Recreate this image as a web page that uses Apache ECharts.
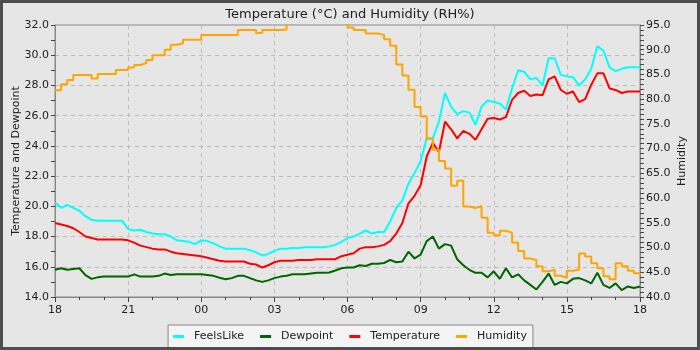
<!DOCTYPE html>
<html>
<head>
<meta charset="utf-8">
<title>Temperature and Humidity</title>
<script src="https://cdn.jsdelivr.net/npm/echarts@6/dist/echarts.min.js"></script>
<style>
    html, body { margin: 0; padding: 0; background: #e6e6e6; }
    #chart { width: 700px; height: 350px; }
</style>
</head>
<body>
<div id="chart"></div>
<script>
    'use strict';

    // one sample every 15 minutes, 18:00 -> 18:00 next day
    const STEP_HOURS = 0.25;
    const hourLabels = ['18', '21', '00', '03', '06', '09', '12', '15', '18'];

    const feelsLike = [
        20.25, 19.9, 20.1, 19.9, 19.7, 19.35, 19.1, 19.05, 19.05, 19.05, 19.05, 19.05,
        18.5, 18.4, 18.45, 18.3, 18.2, 18.15, 18.15, 18.0, 17.75, 17.7, 17.65, 17.5,
        17.75, 17.7, 17.55, 17.35, 17.2, 17.2, 17.2, 17.2, 17.1, 16.95, 16.75, 16.85,
        17.05, 17.2, 17.2, 17.25, 17.25, 17.3, 17.3, 17.3, 17.3, 17.35, 17.45, 17.65,
        17.9, 18.0, 18.2, 18.4, 18.2, 18.3, 18.3, 19.0, 19.9, 20.4, 21.5, 22.2,
        23.0, 24.5, 24.5, 25.6, 27.5, 26.6, 26.1, 26.3, 26.2, 25.4, 26.6, 27.0,
        26.9, 26.8, 26.4, 27.8, 29.0, 28.9, 28.4, 28.5, 28.0, 29.8, 29.8, 28.7,
        28.6, 28.55, 28.0, 28.4, 29.1, 30.6, 30.3, 29.2, 28.95, 29.1, 29.2, 29.2, 29.2
    ];

    const dewpoint = [
        15.8, 15.9, 15.8, 15.85, 15.9, 15.45, 15.2, 15.3, 15.35, 15.35, 15.35, 15.35,
        15.35, 15.5, 15.35, 15.35, 15.35, 15.4, 15.55, 15.45, 15.5, 15.5, 15.5, 15.5,
        15.5, 15.45, 15.4, 15.27, 15.17, 15.25, 15.4, 15.4, 15.25, 15.1, 15.0, 15.1,
        15.25, 15.35, 15.4, 15.5, 15.5, 15.5, 15.55, 15.6, 15.6, 15.62, 15.75, 15.9,
        15.95, 15.95, 16.1, 16.05, 16.2, 16.2, 16.25, 16.45, 16.3, 16.35, 17.0, 16.55,
        16.8, 17.7, 18.0, 17.2, 17.5, 17.4, 16.5, 16.1, 15.8, 15.6, 15.6, 15.3,
        15.7, 15.2, 15.9, 15.3, 15.5, 15.1, 14.8, 14.5, 15.0, 15.55, 14.8, 15.0,
        14.9, 15.2, 15.25, 15.1, 14.9, 15.6, 14.8, 14.6, 14.9, 14.45, 14.7, 14.6, 14.7
    ];

    const temperature = [
        18.9, 18.8, 18.7, 18.55, 18.3, 18.0, 17.9, 17.8, 17.8, 17.8, 17.8, 17.8,
        17.75, 17.6, 17.4, 17.3, 17.2, 17.15, 17.15, 17.0, 16.9, 16.85, 16.8, 16.75,
        16.7, 16.6, 16.5, 16.4, 16.35, 16.35, 16.35, 16.35, 16.2, 16.15, 15.95, 16.1,
        16.3, 16.4, 16.4, 16.4, 16.45, 16.45, 16.45, 16.5, 16.5, 16.5, 16.5, 16.7,
        16.8, 16.9, 17.2, 17.3, 17.3, 17.35, 17.45, 17.7, 18.2, 18.9, 20.2, 20.7,
        21.4, 23.3, 24.2, 23.6, 25.6, 25.1, 24.5, 25.0, 24.8, 24.4, 25.1, 25.8,
        25.85, 25.75, 25.9, 27.05, 27.5, 27.65, 27.3, 27.4, 27.35, 28.4, 28.6, 27.7,
        27.45, 27.6, 26.9, 27.1, 28.05, 28.8, 28.8, 27.8, 27.7, 27.5, 27.6, 27.6, 27.6
    ];

    const humidity = [
        81.8, 83.0, 83.9, 84.9, 84.9, 84.9, 84.2, 85.1, 85.1, 85.1, 85.9, 85.9,
        86.4, 86.9, 87.3, 87.9, 88.9, 88.9, 90.0, 91.0, 91.3, 92.0, 92.0, 92.0,
        93.0, 93.0, 93.0, 93.0, 93.0, 93.0, 94.0, 94.0, 94.0, 93.4, 94.0, 94.0,
        94.0, 94.1, 95.3, 96.0, 96.0, 96.0, 96.0, 96.0, 96.0, 96.0, 96.0, 96.0,
        94.5, 94.0, 94.0, 93.3, 93.3, 93.0, 92.1, 90.8, 87.0, 84.8, 81.9, 78.4,
        76.5, 72.0, 69.8, 67.5, 66.0, 62.5, 63.5, 58.3, 58.0, 58.4, 56.0, 53.0,
        52.5, 53.4, 53.0, 51.0, 49.3, 47.8, 47.5, 46.2, 45.2, 45.5, 44.3, 43.9,
        45.3, 45.5, 48.8, 48.2, 46.8, 45.8, 44.2, 43.6, 46.8, 46.2, 45.3, 44.8, 44.6
    ];

    const withHours = function(values) {
        return values.map((v, i) => [i * STEP_HOURS, v]);
    };

    const lineSeries = function(name, color, values, axisIndex, step) {
        return {
            name: name,
            type: 'line',
            yAxisIndex: axisIndex,
            data: withHours(values),
            showSymbol: false,
            step: step,
            clip: true,
            color: color,
            lineStyle: { width: 2, color: color },
            z: 2
        };
    };

    const FONT = 'DejaVu Sans';
    const AXIS_GREY = '#888888';

    const chart = echarts.init(document.getElementById('chart'), null, { renderer: 'canvas' });

    chart.setOption({
        backgroundColor: '#e6e6e6',
        animation: false,
        textStyle: { fontFamily: FONT },
        title: {
            text: 'Temperature (°C) and Humidity (RH%)',
            left: 'center',
            top: 3,
            textStyle: { fontFamily: FONT, fontSize: 13, fontWeight: 'normal', color: '#222' }
        },
        graphic: [{
            type: 'rect',
            shape: { x: 1.5, y: 1.5, width: 697, height: 347 },
            style: { fill: 'none', stroke: '#4d4d4d', lineWidth: 3 },
            silent: true,
            z: 100
        }],
        legend: {
            bottom: 2,
            left: 'center',
            data: ['FeelsLike', 'Dewpoint', 'Temperature', 'Humidity'],
            icon: 'rect',
            itemWidth: 11,
            itemHeight: 3,
            itemGap: 16,
            padding: [6, 6, 6, 5],
            backgroundColor: '#f4f4f4',
            borderColor: AXIS_GREY,
            borderWidth: 1,
            textStyle: { fontFamily: FONT, fontSize: 11, color: '#222', padding: [0, 0, 0, 5] }
        },
        grid: {
            left: 55,
            right: 60,
            top: 25,
            bottom: 53,
            outerBoundsMode: 'none',
            containLabel: false,
            show: true,
            borderColor: AXIS_GREY,
            borderWidth: 1,
            backgroundColor: 'transparent'
        },
        xAxis: {
            type: 'value',
            min: 0,
            max: 24,
            interval: 3,
            axisLine: { show: true, lineStyle: { color: AXIS_GREY } },
            axisTick: { show: true, length: 5, lineStyle: { color: '#444' } },
            minorTick: { show: true, splitNumber: 3, length: 3, lineStyle: { color: '#444' } },
            axisLabel: {
                fontFamily: FONT,
                fontSize: 11,
                color: '#222',
                margin: 8,
                formatter: (v) => hourLabels[Math.round(v / 3)]
            },
            splitLine: { show: true, lineStyle: { color: '#bbbbbb', type: [4, 4] } }
        },
        yAxis: [{
            type: 'value',
            min: 14,
            max: 32,
            interval: 2,
            name: 'Temperature and Dewpoint',
            nameLocation: 'middle',
            nameRotate: 90,
            nameGap: 33,
            nameMoveOverlap: false,
            nameTextStyle: { fontFamily: FONT, fontSize: 11, color: '#222' },
            axisLine: { show: true, lineStyle: { color: AXIS_GREY } },
            axisTick: { show: true, length: 4, lineStyle: { color: '#444' } },
            minorTick: { show: true, splitNumber: 2, length: 4, lineStyle: { color: '#444' } },
            axisLabel: {
                fontFamily: FONT,
                fontSize: 11,
                color: '#222',
                margin: 6,
                formatter: (v) => v.toFixed(1)
            },
            splitLine: { show: true, lineStyle: { color: '#bbbbbb', type: [4, 4] } }
        }, {
            type: 'value',
            position: 'right',
            min: 40,
            max: 95,
            interval: 5,
            name: 'Humidity',
            nameLocation: 'middle',
            nameRotate: 90,
            nameGap: 37,
            nameMoveOverlap: false,
            nameTextStyle: { fontFamily: FONT, fontSize: 11, color: '#222' },
            axisLine: { show: true, lineStyle: { color: AXIS_GREY } },
            axisTick: { show: true, length: 4, lineStyle: { color: '#444' } },
            minorTick: { show: true, splitNumber: 5, length: 4, lineStyle: { color: '#444' } },
            axisLabel: {
                fontFamily: FONT,
                fontSize: 11,
                color: '#222',
                margin: 6,
                formatter: (v) => v.toFixed(1)
            },
            splitLine: { show: false }
        }],
        series: [
            lineSeries('FeelsLike', '#00ffff', feelsLike, 0, false),
            lineSeries('Dewpoint', '#006400', dewpoint, 0, false),
            lineSeries('Temperature', '#ff0000', temperature, 0, false),
            lineSeries('Humidity', '#ffa500', humidity, 1, 'end')
        ]
    });
</script>
</body>
</html>
